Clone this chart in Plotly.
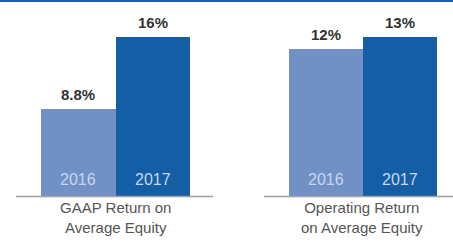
import plotly.graph_objects as go

years = ["2016", "2017"]
gaap_roe = [8.8, 16]
gaap_labels = ["8.8%", "16%"]
oper_roe = [12, 13]
oper_labels = ["12%", "13%"]
panel_titles = ["GAAP Return on<br>Average Equity", "Operating Return<br>on Average Equity"]
bar_colors = ["#7090c6", "#145ea6"]

W, H = 453, 242
fig = go.Figure()

fig.add_trace(go.Bar(x=years, y=gaap_roe, marker=dict(color=bar_colors, line=dict(width=0)),
                     xaxis="x", yaxis="y", hoverinfo="skip"))
fig.add_trace(go.Bar(x=years, y=oper_roe, marker=dict(color=bar_colors, line=dict(width=0)),
                     xaxis="x2", yaxis="y2", hoverinfo="skip"))

ydom = [(242 - 196) / H, (242 - 37) / H]
ax_common = dict(showgrid=False, zeroline=False, showticklabels=False, showline=False, ticks="", fixedrange=True)
fig.update_layout(
    width=W, height=H, margin=dict(l=0, r=0, t=0, b=0),
    paper_bgcolor="white", plot_bgcolor="white", showlegend=False, bargap=0,
    xaxis=dict(type="category", domain=[41 / W, 190 / W], range=[-0.5, 1.5], **ax_common),
    yaxis=dict(domain=ydom, range=[0, gaap_roe[1]], **ax_common),
    xaxis2=dict(type="category", domain=[289 / W, 437 / W], range=[-0.5, 1.5], anchor="y2", **ax_common),
    yaxis2=dict(domain=ydom, range=[0, oper_roe[1]], anchor="x2", **ax_common),
)

ann = []
for xref, yref, vals, labs in [("x", "y", gaap_roe, gaap_labels), ("x2", "y2", oper_roe, oper_labels)]:
    for i, (yr, v, lab) in enumerate(zip(years, vals, labs)):
        ann.append(dict(x=i, y=v, xref=xref, yref=yref, text=lab, showarrow=False,
                        yanchor="bottom", yshift=4,
                        font=dict(family="Arial, Liberation Sans", size=15, color="#333333", weight="bold")))
        ann.append(dict(x=i, y=0, xref=xref, yref=yref, text=yr, showarrow=False,
                        yanchor="bottom", yshift=6,
                        font=dict(family="Arial, Liberation Sans", size=16, color="#c9d7ee")))

for cx, t in zip([115, 362], panel_titles):
    ann.append(dict(x=cx / W, y=(242 - 197) / H, xref="paper", yref="paper", text=t, showarrow=False,
                    xanchor="center", yanchor="top",
                    font=dict(family="Arial, Liberation Sans", size=15, color="#555555")))
fig.update_layout(annotations=ann)

shapes = [
    dict(type="line", xref="paper", yref="paper", x0=16 / W, x1=213 / W, y0=(242 - 196.5) / H, y1=(242 - 196.5) / H,
         line=dict(color="#a0a0a0", width=1.5)),
    dict(type="line", xref="paper", yref="paper", x0=264 / W, x1=1, y0=(242 - 196.5) / H, y1=(242 - 196.5) / H,
         line=dict(color="#a0a0a0", width=1.5)),
    dict(type="line", xref="paper", yref="paper", x0=0, x1=1, y0=(242 - 1) / H, y1=(242 - 1) / H,
         line=dict(color="#1f5fae", width=2)),
]
fig.update_layout(shapes=shapes)

fig.write_html("out.html", config={"displayModeBar": False},
               post_script="document.body.style.margin='0';")
